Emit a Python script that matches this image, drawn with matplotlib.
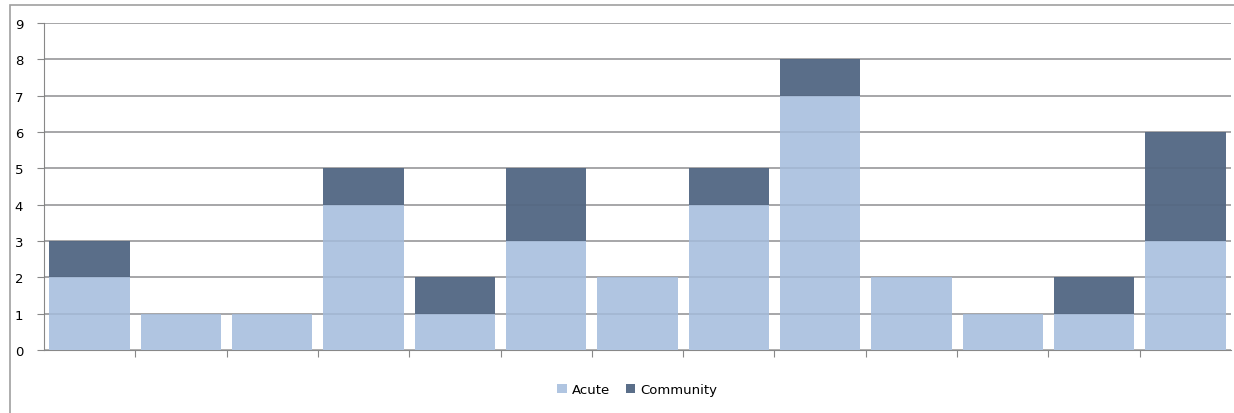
import matplotlib.pyplot as plt
import numpy as np
from matplotlib.patches import Rectangle

categories = list(range(1, 14))
acute = [2, 1, 1, 4, 1, 3, 2, 4, 7, 2, 1, 1, 3]
community = [1, 0, 0, 1, 1, 2, 0, 1, 1, 0, 0, 1, 3]

c_acute = '#B0C5E1'
c_comm = '#5A6E89'
grid_c = '#A6A6A6'

fig = plt.figure(figsize=(12.34, 4.14), dpi=100)
ax = fig.add_axes([44 / 1234, 1 - 351 / 414, (1231 - 44) / 1234, (351 - 24) / 414])

# chart border
fig.patches.append(Rectangle((10 / 1234, -0.05), 1.1, 1 - 6 / 414 + 0.05,
                             transform=fig.transFigure, fill=False,
                             edgecolor='#A0A0A0', linewidth=1.2))

x = np.arange(len(categories))
ax.bar(x, acute, width=0.88, color=c_acute, label='Acute', zorder=3)
ax.bar(x, community, width=0.88, bottom=acute, color=c_comm, label='Community', zorder=3)

ax.set_xlim(-0.5, len(categories) - 0.5)
ax.set_ylim(0, 9)
ax.set_yticks(range(0, 10))
ax.yaxis.grid(True, color=grid_c, linewidth=1.2, zorder=0)
ax.set_axisbelow(True)
# faint gridlines showing through the bars
for yv in range(1, 10):
    ax.axhline(yv, color='#404858', alpha=0.12, linewidth=1.2, zorder=4)

ax.set_xticks(np.arange(0.5, len(categories) - 0.5, 1))
ax.set_xticklabels([])
ax.tick_params(axis='x', direction='out', length=5, color='#888888')
ax.tick_params(axis='y', direction='out', length=5, color='#888888', labelsize=9.5, pad=10)

for s in ['top', 'right']:
    ax.spines[s].set_visible(False)
for s in ['left', 'bottom']:
    ax.spines[s].set_color('#888888')

ax.legend(loc='upper center', bbox_to_anchor=(0.5, -0.065), ncol=2, frameon=False,
          fontsize=9.5, handlelength=0.7, handleheight=0.7, handletextpad=0.4,
          columnspacing=1.2)

fig.savefig('out.png', dpi=100)
